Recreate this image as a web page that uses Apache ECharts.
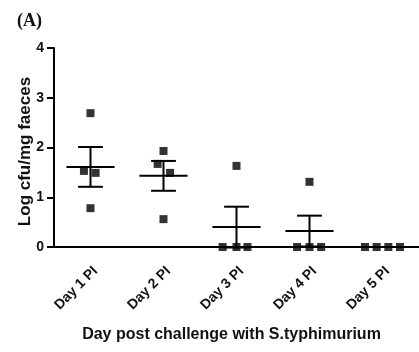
<!DOCTYPE html>
<html>
<head>
<meta charset="utf-8">
<script src="https://cdn.jsdelivr.net/npm/echarts@6/dist/echarts.min.js"></script>
<style>
  html, body { margin: 0; padding: 0; background: #fff; }
  #chart { width: 419px; height: 352px; }
</style>
</head>
<body>
<div id="chart"></div>
<script>
const categories = ['Day 1 PI', 'Day 2 PI', 'Day 3 PI', 'Day 4 PI', 'Day 5 PI']
const yTicks = [0, 1, 2, 3, 4]

// log cfu per animal, per day
const day1 = [2.69, 1.53, 1.49, 0.78]
const day2 = [1.93, 1.67, 1.49, 0.56]
const day3 = [1.63, 0, 0, 0]
const day4 = [1.31, 0, 0, 0]
const day5 = [0, 0, 0, 0]
// horizontal scatter of the points around each day (in category units)
const jitter1 = [0, -0.09, 0.07, 0]
const jitter2 = [0, -0.08, 0.09, 0]
const jitter3 = [0, -0.19, 0, 0.15]
const jitter4 = [0, -0.17, 0, 0.16]
const jitter5 = [-0.24, -0.08, 0.08, 0.24]

const means = [1.61, 1.43, 0.40, 0.32, 0]
const sems = [0.40, 0.30, 0.41, 0.31, 0]

const FONT = "'Liberation Sans', Arial, sans-serif"
const days = [day1, day2, day3, day4, day5]
const jitters = [jitter1, jitter2, jitter3, jitter4, jitter5]

const points = []
days.forEach((vals, i) => {
  vals.forEach((v, j) => points.push([i + 1 + jitters[i][j], v]))
})
const bars = means.map((m, i) => [i + 1, m, sems[i]])

const chart = echarts.init(document.getElementById('chart'))
chart.setOption({
  animation: false,
  title: {
    text: '(A)',
    left: 12,
    top: 7,
    textStyle: { fontFamily: "'Liberation Serif', 'Times New Roman', serif", fontWeight: 'bold', fontSize: 18, color: '#111' },
  },
  grid: { left: 54, right: 0, top: 48, bottom: 105, containLabel: false },
  xAxis: [
    {
      type: 'category',
      data: categories,
      boundaryGap: true,
      name: 'Day post challenge with S.typhimurium',
      nameLocation: 'middle',
      nameGap: 80,
      nameMoveOverlap: false,
      nameTextStyle: { fontFamily: FONT, fontWeight: 'bold', fontSize: 16, color: '#111', padding: [0, 10, 0, 0] },
      axisLine: { lineStyle: { color: '#000', width: 2 } },
      axisTick: { alignWithLabel: true, length: 6, lineStyle: { color: '#000', width: 2 } },
      axisLabel: {
        rotate: 45, margin: 17, align: 'right', verticalAlign: 'top',
        fontFamily: FONT, fontWeight: 'bold', fontSize: 14, color: '#111',
      },
      splitLine: { show: false },
    },
    { type: 'value', min: 0.5, max: 5.5, show: false },
  ],
  yAxis: {
    type: 'value',
    min: 0,
    max: 4,
    interval: 1,
    name: 'Log cfu/mg faeces',
    nameLocation: 'middle',
    nameGap: 20,
    nameMoveOverlap: false,
    nameTextStyle: { fontFamily: FONT, fontWeight: 'bold', fontSize: 17, color: '#111', padding: [0, 8, 0, 0] },
    axisLine: { show: true, lineStyle: { color: '#000', width: 2 } },
    axisTick: { show: true, length: 7, lineStyle: { color: '#000', width: 2 } },
    axisLabel: { margin: 10, fontFamily: FONT, fontWeight: 'bold', fontSize: 14, color: '#111',
      formatter: v => (yTicks.includes(v) ? String(v) : '') },
    splitLine: { show: false },
  },
  series: [
    {
      type: 'custom',
      xAxisIndex: 1,
      clip: false,
      z: 3,
      data: bars,
      renderItem: (params, api) => {
        const x = api.value(0), m = api.value(1), s = api.value(2)
        const c = api.coord([x, m])
        const top = api.coord([x, m + s])
        const bot = api.coord([x, m - s])
        const unit = api.size([1, 0])[0]
        const half = unit * 0.33
        const cap = unit * 0.17
        const style = { stroke: '#000', lineWidth: 2 }
        const children = [
          { type: 'line', shape: { x1: c[0] - half, y1: c[1], x2: c[0] + half, y2: c[1] }, style },
        ]
        if (s > 0) {
          children.push(
            { type: 'line', shape: { x1: c[0], y1: top[1], x2: c[0], y2: bot[1] }, style },
            { type: 'line', shape: { x1: c[0] - cap, y1: top[1], x2: c[0] + cap, y2: top[1] }, style },
            { type: 'line', shape: { x1: c[0] - cap, y1: bot[1], x2: c[0] + cap, y2: bot[1] }, style },
          )
        }
        return { type: 'group', children }
      },
    },
    {
      type: 'scatter',
      xAxisIndex: 1,
      clip: false,
      z: 4,
      symbol: 'rect',
      symbolSize: 8,
      itemStyle: { color: '#000' },
      data: points,
    },
  ],
})
</script>
</body>
</html>
